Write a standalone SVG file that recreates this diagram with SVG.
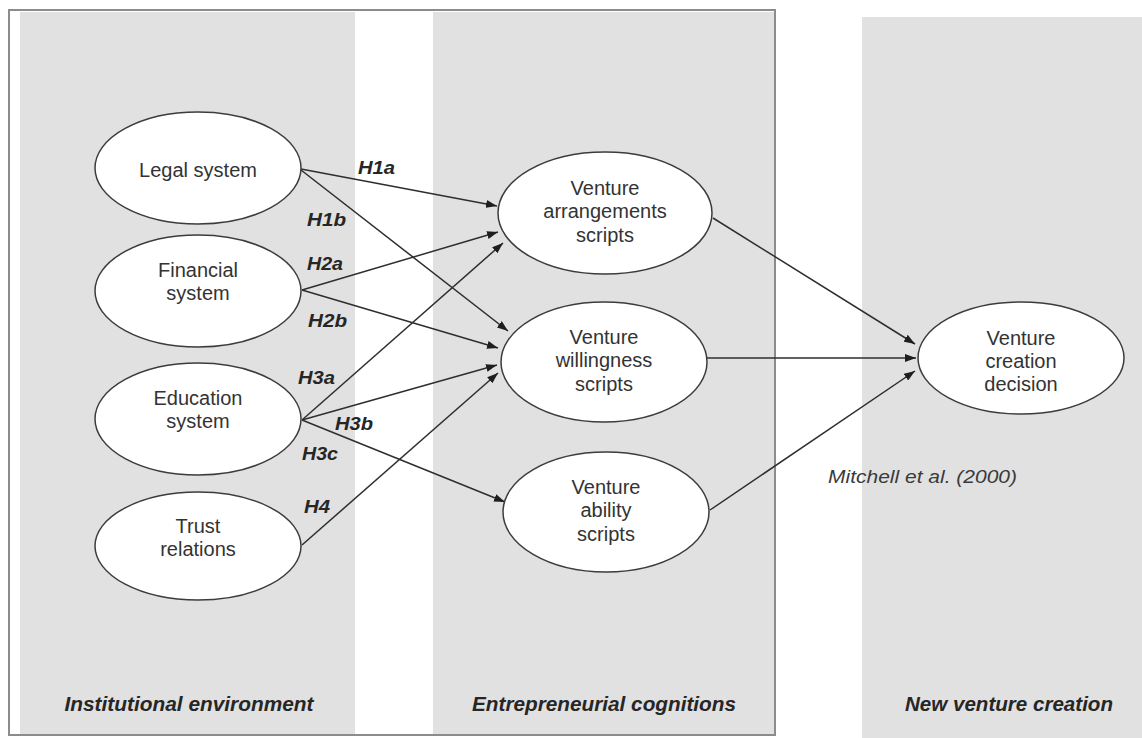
<svg xmlns="http://www.w3.org/2000/svg" width="1142" height="738" viewBox="0 0 1142 738">
  <style>
    .panel { fill: #e1e1e1; }
    .frame { fill: none; stroke: #8c8c8c; stroke-width: 2; }
    .node ellipse { fill: #ffffff; stroke: #3c3c3c; stroke-width: 1.5; }
    .node text { font-family: "Liberation Sans", Arial, sans-serif; font-size: 20px; fill: #333333; text-anchor: middle; }
    .edge { stroke: #2e2e2e; stroke-width: 1.5; fill: none; marker-end: url(#arrow); }
    .hyp { font-family: "Liberation Sans", Arial, sans-serif; font-size: 19px; font-weight: bold; font-style: italic; fill: #262626; }
    .section { font-family: "Liberation Sans", Arial, sans-serif; font-size: 20px; font-weight: bold; font-style: italic; fill: #262626; text-anchor: middle; }
    .cite { font-family: "Liberation Sans", Arial, sans-serif; font-size: 18px; font-style: italic; fill: #3a3a3a; }
  </style>
  <defs>
    <marker id="arrow" viewBox="0 0 11 8" refX="11" refY="4" markerWidth="11" markerHeight="8" markerUnits="userSpaceOnUse" orient="auto">
      <path d="M0,0 L11,4 L0,8 Z" fill="#1e1e1e"/>
    </marker>
  </defs>

  <rect width="1142" height="738" fill="#ffffff"/>

  <!-- background columns -->
  <g id="columns">
    <rect class="panel" x="20" y="12" width="335" height="722" fill="#e4e4e4"/>
    <rect class="panel" x="433" y="12" width="341" height="722"/>
    <rect class="panel" x="862" y="17" width="280" height="721"/>
    <rect class="frame" x="9" y="10" width="766" height="725"/>
  </g>

  <!-- connectors -->
  <g id="connectors">
    <line class="edge" x1="301" y1="169" x2="497" y2="206"/>
    <line class="edge" x1="301" y1="170" x2="508" y2="331"/>
    <line class="edge" x1="302" y1="290" x2="498" y2="232"/>
    <line class="edge" x1="302" y1="290" x2="498" y2="348"/>
    <line class="edge" x1="302" y1="420" x2="503" y2="243"/>
    <line class="edge" x1="302" y1="420" x2="497" y2="365"/>
    <line class="edge" x1="302" y1="420" x2="505" y2="502"/>
    <line class="edge" x1="302" y1="545" x2="498" y2="373"/>
    <line class="edge" x1="713" y1="218" x2="915" y2="344"/>
    <line class="edge" x1="707" y1="358" x2="916" y2="358"/>
    <line class="edge" x1="710" y1="510" x2="915" y2="371"/>
  </g>

  <!-- hypothesis labels -->
  <g id="hypotheses">
    <text class="hyp" x="358" y="174" textLength="37" lengthAdjust="spacingAndGlyphs">H1a</text>
    <text class="hyp" x="307" y="226" textLength="39" lengthAdjust="spacingAndGlyphs">H1b</text>
    <text class="hyp" x="307" y="270" textLength="36" lengthAdjust="spacingAndGlyphs">H2a</text>
    <text class="hyp" x="308" y="327" textLength="39" lengthAdjust="spacingAndGlyphs">H2b</text>
    <text class="hyp" x="298" y="384" textLength="37" lengthAdjust="spacingAndGlyphs">H3a</text>
    <text class="hyp" x="335" y="430" textLength="38" lengthAdjust="spacingAndGlyphs">H3b</text>
    <text class="hyp" x="302" y="460" textLength="36" lengthAdjust="spacingAndGlyphs">H3c</text>
    <text class="hyp" x="304" y="513" textLength="26" lengthAdjust="spacingAndGlyphs">H4</text>
  </g>

  <!-- institutional environment -->
  <g id="legal" class="node">
    <ellipse cx="198" cy="168" rx="103" ry="56"/>
    <text x="198" y="177">Legal system</text>
  </g>
  <g id="financial" class="node">
    <ellipse cx="198" cy="291" rx="103" ry="56"/>
    <text x="198" y="277">Financial</text>
    <text x="198" y="300">system</text>
  </g>
  <g id="education" class="node">
    <ellipse cx="198" cy="419" rx="103" ry="56"/>
    <text x="198" y="405">Education</text>
    <text x="198" y="428">system</text>
  </g>
  <g id="trust" class="node">
    <ellipse cx="198" cy="546" rx="103" ry="54"/>
    <text x="198" y="533">Trust</text>
    <text x="198" y="556">relations</text>
  </g>

  <!-- entrepreneurial cognitions -->
  <g id="arrangements" class="node">
    <ellipse cx="605" cy="213" rx="107" ry="61"/>
    <text x="605" y="195">Venture</text>
    <text x="605" y="218">arrangements</text>
    <text x="605" y="242">scripts</text>
  </g>
  <g id="willingness" class="node">
    <ellipse cx="604" cy="362" rx="103" ry="60"/>
    <text x="604" y="344">Venture</text>
    <text x="604" y="367">willingness</text>
    <text x="604" y="391">scripts</text>
  </g>
  <g id="ability" class="node">
    <ellipse cx="606" cy="512" rx="103" ry="60"/>
    <text x="606" y="494">Venture</text>
    <text x="606" y="517">ability</text>
    <text x="606" y="541">scripts</text>
  </g>

  <!-- new venture creation -->
  <g id="decision" class="node">
    <ellipse cx="1021" cy="358" rx="103" ry="56"/>
    <text x="1021" y="345">Venture</text>
    <text x="1021" y="368">creation</text>
    <text x="1021" y="391">decision</text>
  </g>

  <text class="cite" x="828" y="483" textLength="189" lengthAdjust="spacingAndGlyphs">Mitchell et al. (2000)</text>

  <!-- column titles -->
  <g id="titles">
    <text class="section" x="189" y="711" textLength="249" lengthAdjust="spacingAndGlyphs">Institutional environment</text>
    <text class="section" x="604" y="711" textLength="264" lengthAdjust="spacingAndGlyphs">Entrepreneurial cognitions</text>
    <text class="section" x="1009" y="711" textLength="208" lengthAdjust="spacingAndGlyphs">New venture creation</text>
  </g>
</svg>
